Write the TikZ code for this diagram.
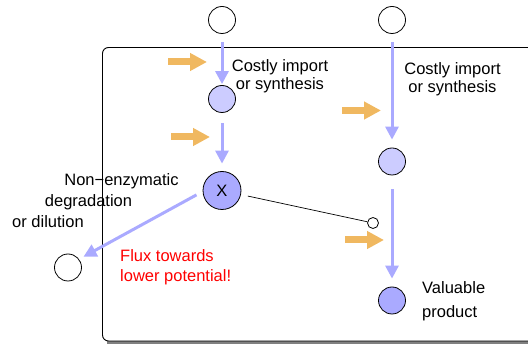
\documentclass[tikz,border=0pt]{standalone}
\usepackage{fontspec}
\setmainfont{Liberation Sans}
\usetikzlibrary{arrows.meta}
\definecolor{fluxblue}{RGB}{170,170,255}
\definecolor{paleblue}{RGB}{204,204,255}
\definecolor{energy}{RGB}{240,184,96}
\begin{document}
\begin{tikzpicture}[x=1pt,y=-1pt,font=\fontsize{16.5}{18}\selectfont,
		met/.style={circle,draw,line width=0.8pt,inner sep=0pt,minimum size=27pt},
		lbl/.style={inner sep=0pt},
		flux/.style={draw=fluxblue,line width=3pt,-{Triangle[width=13pt,length=13pt]}},
		cost/.style={draw=energy,line width=7pt,-{Triangle[width=17pt,length=17pt]}}]
				\useasboundingbox (0,0) rectangle (528,347);
				% cell
				\draw [gray,line width=2.5pt] (107,342.5)--(560,342.5);
				\draw [line width=0.9pt,rounded corners=6pt] (102.5,47.5) rectangle (560,341);
				% metabolites
				\node [met] (top1) at (222,20) {};
				\node [met] (top2) at (392,20) {};
				\node [met,fill=paleblue] (a1) at (222,99) {};
				\node [met,fill=fluxblue,minimum size=38pt] (x) at (222,190.5) {X};
				\node [met,fill=paleblue] (b1) at (392,161.5) {};
				\node [met,fill=fluxblue] (prod) at (392,300.5) {};
				\node [met] (waste) at (68,267.5) {};
				\node [met,minimum size=11pt] (inhib) at (373,223) {};
				% fluxes
				\draw [flux,shorten <=8pt,shorten >=1pt] (top1)--(a1);
				\draw [flux,shorten <=10pt,shorten >=7.5pt] (a1)--(x);
				\draw [flux,shorten <=8pt,shorten >=8pt] (top2)--(b1);
				\draw [flux,shorten <=14pt,shorten >=8pt] (b1)--(prod);
				\draw [flux,shorten <=7pt,shorten >=5pt] (x.183)--(waste.37);
				\draw [line width=0.7pt,shorten <=7pt] (x)--(inhib);
				% energy input
				\draw [cost] (168,62)--(207,62);
				\draw [cost] (171,137)--(210,137);
				\draw [cost] (342,110.5)--(381,110.5);
				\draw [cost] (345,240)--(384,240);
				% labels
				\node [lbl,align=center,anchor=base] (cost1) at (280,90) {Costly import\\or synthesis};
				\node [lbl,align=center,anchor=base] (cost2) at (452.5,93) {Costly import\\or synthesis};
				\node [lbl,anchor=base] (deg1) at (121.5,186) {Non−enzymatic};
				\node [lbl,anchor=base] (deg2) at (88.5,207) {degradation};
				\node [lbl,anchor=base] (deg3) at (48,228) {or dilution};
				\node [lbl,align=left,anchor=base west,text=red,font=\fontsize{16.5}{20}\selectfont] (note) at (120,282) {Flux towards\\lower potential!};
				\node [lbl,align=left,anchor=base west,font=\fontsize{16.5}{24}\selectfont] (prodlabel) at (422,318) {Valuable\\product};
			\end{tikzpicture}
\end{document}
